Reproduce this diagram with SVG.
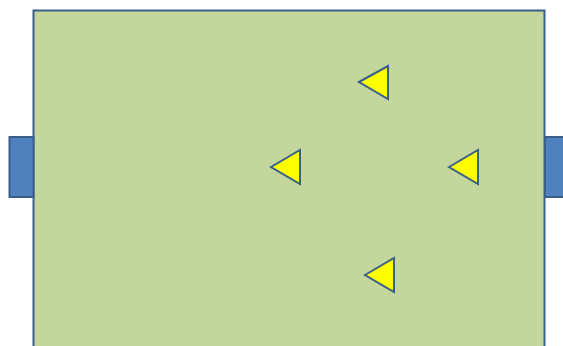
<svg xmlns="http://www.w3.org/2000/svg" width="563" height="346" viewBox="0 0 563 346">
<style>
.room{fill:#C3D69B;stroke:#3A5F8B;stroke-width:2}
.door{fill:#4F81BD;stroke:#3A5F8B;stroke-width:2}
.tri{fill:#FFFF00;stroke:#3A5F8B;stroke-width:2;stroke-linejoin:miter}
</style>
<rect width="563" height="346" fill="#FFFFFF"/>
<g id="room"><rect class="room" x="33.5" y="10.5" width="511" height="346"/></g>
<g id="door-left"><rect class="door" x="9.5" y="137" width="24" height="60"/></g>
<g id="door-right"><rect class="door" x="545" y="137" width="24" height="60"/></g>
<g id="tri-1"><polygon class="tri" points="359,82 388,66 388,99"/></g>
<g id="tri-2"><polygon class="tri" points="271,167 300,150 300,184"/></g>
<g id="tri-3"><polygon class="tri" points="449,167 478,150 478,184"/></g>
<g id="tri-4"><polygon class="tri" points="365,275 394,258 394,292"/></g>
<g id="connectors"></g>
</svg>
